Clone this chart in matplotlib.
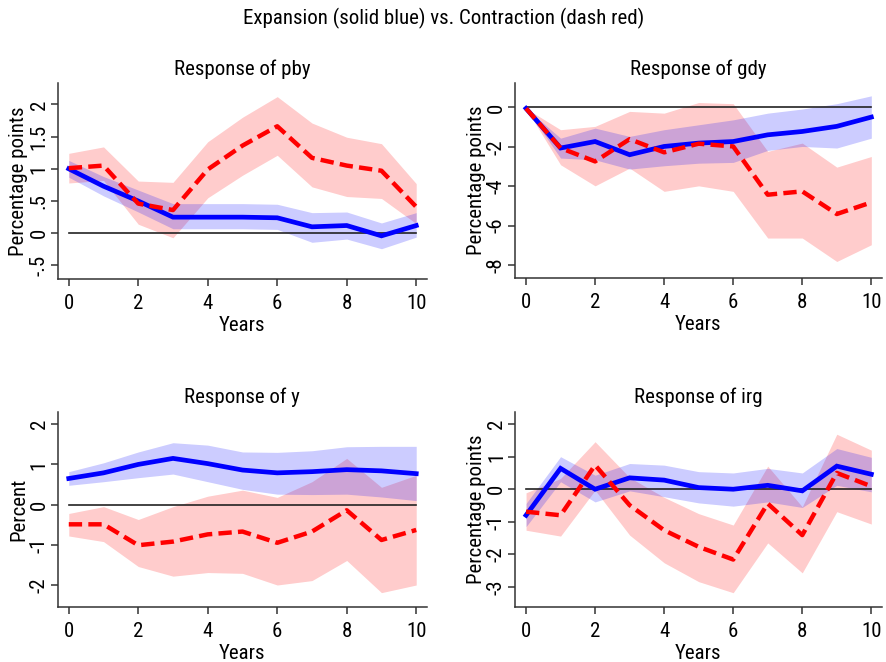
import matplotlib
matplotlib.use("Agg")
import matplotlib.pyplot as plt
import numpy as np

plt.rcParams['font.family'] = ['Roboto Condensed', 'Liberation Sans', 'DejaVu Sans']

years = list(range(11))

# pby
pby_exp = [1.00, 0.73, 0.50, 0.25, 0.25, 0.25, 0.24, 0.10, 0.12, -0.04, 0.12]
pby_exp_lo = [0.87, 0.58, 0.33, 0.07, 0.07, 0.07, 0.06, -0.14, -0.09, -0.24, -0.06]
pby_exp_hi = [1.13, 0.88, 0.67, 0.46, 0.46, 0.46, 0.45, 0.32, 0.33, 0.16, 0.32]
pby_con = [1.01, 1.05, 0.46, 0.36, 0.99, 1.36, 1.66, 1.17, 1.05, 0.97, 0.41]
pby_con_lo = [0.78, 0.82, 0.14, -0.07, 0.55, 0.90, 1.21, 0.72, 0.57, 0.54, 0.15]
pby_con_hi = [1.24, 1.34, 0.81, 0.79, 1.42, 1.80, 2.12, 1.71, 1.49, 1.39, 0.77]

# gdy
gdy_exp = [-0.05, -2.06, -1.73, -2.40, -1.98, -1.81, -1.73, -1.39, -1.22, -0.96, -0.49]
gdy_exp_lo = [-0.05, -2.57, -2.66, -3.13, -2.96, -2.83, -2.79, -2.18, -1.98, -2.06, -1.56]
gdy_exp_hi = [-0.05, -1.56, -1.05, -1.47, -1.13, -0.88, -0.63, -0.29, -0.08, 0.19, 0.59]
gdy_con = [-0.05, -2.06, -2.74, -1.61, -2.28, -1.84, -1.98, -4.43, -4.26, -5.41, -4.82]
gdy_con_lo = [-0.05, -2.91, -3.98, -3.08, -4.26, -3.98, -4.26, -6.63, -6.63, -7.82, -6.97]
gdy_con_hi = [-0.05, -1.13, -0.96, -0.20, -0.29, 0.25, 0.19, -2.23, -1.81, -3.03, -2.49]

# y
y_exp = [0.65, 0.79, 1.00, 1.15, 1.02, 0.86, 0.79, 0.82, 0.87, 0.84, 0.77]
y_exp_lo = [0.48, 0.57, 0.67, 0.76, 0.57, 0.38, 0.26, 0.25, 0.26, 0.19, 0.10]
y_exp_hi = [0.82, 1.04, 1.31, 1.54, 1.48, 1.31, 1.30, 1.34, 1.44, 1.45, 1.45]
y_con = [-0.49, -0.49, -1.01, -0.92, -0.74, -0.67, -0.95, -0.67, -0.14, -0.88, -0.63]
y_con_lo = [-0.78, -0.92, -1.54, -1.78, -1.69, -1.71, -2.00, -1.89, -1.39, -2.19, -2.00]
y_con_hi = [-0.22, -0.05, -0.37, -0.05, 0.21, 0.36, 0.18, 0.57, 1.15, 0.43, 0.73]

# irg
irg_exp = [-0.80, 0.64, 0.00, 0.35, 0.28, 0.05, 0.00, 0.12, -0.05, 0.71, 0.46]
irg_exp_lo = [-1.15, 0.23, -0.39, -0.05, -0.23, -0.42, -0.52, -0.39, -0.56, 0.12, -0.08]
irg_exp_hi = [-0.44, 1.00, 0.43, 0.79, 0.74, 0.54, 0.50, 0.64, 0.50, 1.25, 0.98]
irg_con = [-0.69, -0.80, 0.74, -0.49, -1.26, -1.77, -2.16, -0.44, -1.41, 0.50, 0.09]
irg_con_lo = [-1.26, -1.44, -0.03, -1.41, -2.26, -2.84, -3.18, -1.65, -2.57, -0.69, -1.07]
irg_con_hi = [-0.11, 0.33, 1.46, 0.36, -0.25, -0.75, -1.10, 0.71, -0.54, 1.69, 1.20]

panels = [
    dict(title="Response of pby", ylabel="Percentage points",
         exp=pby_exp, exp_lo=pby_exp_lo, exp_hi=pby_exp_hi,
         con=pby_con, con_lo=pby_con_lo, con_hi=pby_con_hi,
         yticks=[-0.5, 0, 0.5, 1, 1.5, 2], yticklabels=["-.5", "0", ".5", "1", "1.5", "2"],
         ylim=(-0.71, 2.33), rect=[0.065, 0.5785, 0.416, 0.296]),
    dict(title="Response of gdy", ylabel="Percentage points",
         exp=gdy_exp, exp_lo=gdy_exp_lo, exp_hi=gdy_exp_hi,
         con=gdy_con, con_lo=gdy_con_lo, con_hi=gdy_con_hi,
         yticks=[-8, -6, -4, -2, 0], yticklabels=["-8", "-6", "-4", "-2", "0"],
         ylim=(-8.66, 1.24), rect=[0.5806, 0.58, 0.4134, 0.2946]),
    dict(title="Response of y", ylabel="Percent",
         exp=y_exp, exp_lo=y_exp_lo, exp_hi=y_exp_hi,
         con=y_con, con_lo=y_con_lo, con_hi=y_con_hi,
         yticks=[-2, -1, 0, 1, 2], yticklabels=["-2", "-1", "0", "1", "2"],
         ylim=(-2.54, 2.31), rect=[0.065, 0.0835, 0.416, 0.2945]),
    dict(title="Response of irg", ylabel="Percentage points",
         exp=irg_exp, exp_lo=irg_exp_lo, exp_hi=irg_exp_hi,
         con=irg_con, con_lo=irg_con_lo, con_hi=irg_con_hi,
         yticks=[-3, -2, -1, 0, 1, 2], yticklabels=["-3", "-2", "-1", "0", "1", "2"],
         ylim=(-3.61, 2.38), rect=[0.5806, 0.0835, 0.4134, 0.2945]),
]

fig = plt.figure(figsize=(8.87, 6.62), dpi=100)
fs = 15
spine_col = "#333333"

for p in panels:
    ax = fig.add_axes(p["rect"])
    ax.fill_between(years, p["con_lo"], p["con_hi"], color=(1, 0, 0), alpha=0.2, lw=0)
    ax.fill_between(years, p["exp_lo"], p["exp_hi"], color=(0, 0, 1), alpha=0.2, lw=0)
    ax.plot([years[0], years[-1]], [0, 0], color="#222222", lw=1.2)
    ax.plot(years, p["exp"], color=(0, 0, 1), lw=3.4, solid_joinstyle="miter")
    ax.plot(years, p["con"], color=(1, 0, 0), lw=3.2, linestyle=(0, (3.0, 1.4)))
    ax.set_xlim(-0.32, 10.3)
    ax.set_ylim(*p["ylim"])
    ax.set_xticks([0, 2, 4, 6, 8, 10])
    ax.set_yticks(p["yticks"])
    ax.set_yticklabels(p["yticklabels"], rotation=90, va="center")
    for s in ["top", "right"]:
        ax.spines[s].set_visible(False)
    for s in ["left", "bottom"]:
        ax.spines[s].set_color(spine_col)
        ax.spines[s].set_linewidth(1.1)
    ax.tick_params(axis="both", direction="out", length=5, width=1.1, color=spine_col,
                   labelsize=fs)
    ax.tick_params(axis="x", pad=6)
    ax.tick_params(axis="y", pad=1.5)
    ax.set_xlabel("Years", fontsize=fs, labelpad=2)
    ax.set_ylabel(p["ylabel"], fontsize=fs, labelpad=1)
    ax.set_title(p["title"], fontsize=fs, pad=6)

fig.suptitle("Expansion (solid blue) vs. Contraction (dash red)", fontsize=fs, y=0.988)
fig.savefig("out.png", dpi=100)
